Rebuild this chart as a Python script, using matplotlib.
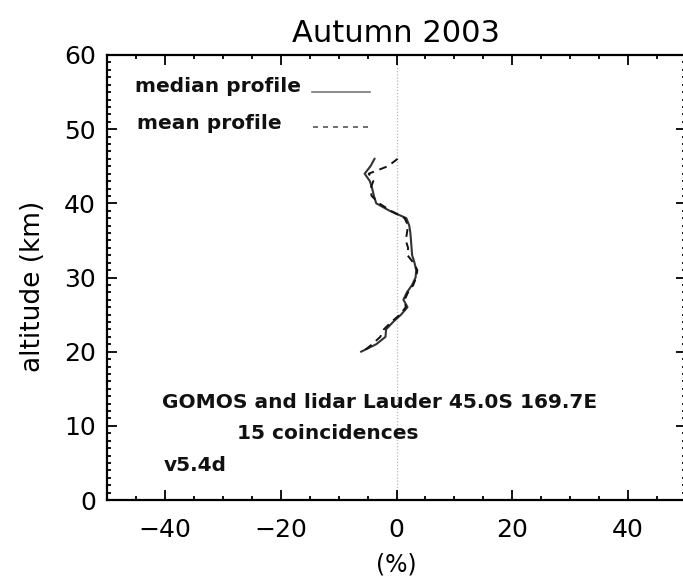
import numpy as np
import matplotlib
matplotlib.use("Agg")
import matplotlib.pyplot as plt
from matplotlib.ticker import MultipleLocator

# Altitude grid (km) and relative differences (%) GOMOS vs lidar
altitude = [46, 45, 44, 43, 42, 41, 40, 39, 38, 37, 36, 35, 34, 33,
            32, 31, 30, 29, 28, 27, 26, 25, 24, 23, 22, 21, 20]
median_profile = [-3.8, -4.5, -5.5, -4.6, -4.2, -3.9, -3.5, -1.2, 1.7, 2.2,
                  2.4, 2.5, 2.6, 2.7, 3.1, 3.4, 3.3, 2.7, 1.8, 1.2,
                  1.9, 0.8, -0.6, -1.8, -1.9, -3.5, -6.1]
mean_profile = [0.2, -1.5, -4.8, -4.0, -4.5, -4.3, -3.0, -1.0, 1.4, 2.0,
                1.8, 1.6, 2.0, 1.9, 2.9, 3.6, 3.4, 2.9, 2.0, 1.4,
                1.6, 0.6, -0.9, -2.2, -2.8, -4.2, -5.8]

title = "Autumn 2003"
station_text = "GOMOS and lidar Lauder 45.0S 169.7E"
count_text = "15 coincidences"
version_text = "v5.4d"

fig = plt.figure(figsize=(6.83, 5.76), dpi=100)
ax = fig.add_axes([107 / 683, 1 - 500 / 576, 579 / 683, 445 / 576])

ax.set_xlim(-50, 50)
ax.set_ylim(0, 60)

# zero reference line
ax.axvline(0, color="#b8b8b8", lw=0.9, ls=(0, (1, 1.5)), zorder=1)

ax.plot(median_profile, altitude, color="#333333", lw=1.5, zorder=3)
ax.plot(mean_profile, altitude, color="#111111", lw=1.4,
        ls=(0, (4, 3)), zorder=3)

# legend drawn as text with line samples
txt_kw = dict(fontsize=14.5, fontweight="bold", color="#111111",
              family="DejaVu Sans")
ax.text(-45.2, 55.7, "median profile", va="center", ha="left", **txt_kw)
ax.plot([-14.6, -4.6], [55.0, 55.0], color="#777777", lw=1.2)
ax.text(-44.8, 50.8, "mean profile", va="center", ha="left", **txt_kw)
ax.plot([-14.4, -5.0], [50.3, 50.3], color="#555555", lw=1.2,
        ls=(0, (3, 3)))

ax.text(-40.5, 13.2, station_text, va="center", ha="left", **txt_kw)
ax.text(-27.5, 8.9, count_text, va="center", ha="left", **txt_kw)
ax.text(-40.2, 4.6, version_text, va="center", ha="left", **txt_kw)

ax.xaxis.set_major_locator(MultipleLocator(20))
ax.xaxis.set_minor_locator(MultipleLocator(5))
ax.yaxis.set_major_locator(MultipleLocator(10))
ax.yaxis.set_minor_locator(MultipleLocator(1))

ax.tick_params(which="both", direction="in", top=True, right=True,
               colors="black", width=1.3)
ax.tick_params(which="major", length=7)
ax.tick_params(which="minor", length=3)
ax.tick_params(axis="x", which="major", pad=13, labelsize=18)
ax.tick_params(axis="y", which="major", pad=8, labelsize=18)

for sp in ax.spines.values():
    sp.set_linewidth(1.6)

ax.set_xticks([-40, -20, 0, 20, 40])
ax.set_xticklabels(["\u221240", "\u221220", "0", "20", "40"])

ax.set_ylabel("altitude (km)", fontsize=19)
ax.yaxis.set_label_coords(-0.105, 0.48)
ax.set_xlabel("(%)", fontsize=17)
ax.xaxis.set_label_coords(0.5, -0.118)
ax.set_title(title, fontsize=22, pad=9)

fig.savefig("out.png", dpi=100)
